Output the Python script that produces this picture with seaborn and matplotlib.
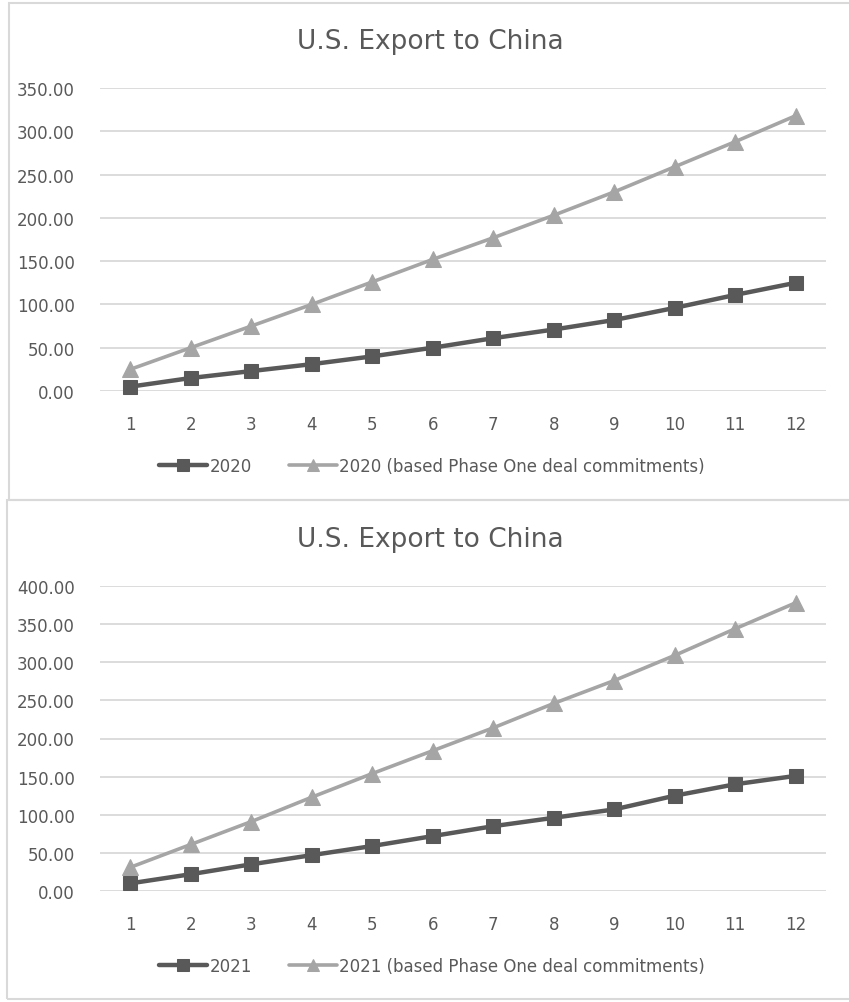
import matplotlib
matplotlib.use("Agg")
import matplotlib.pyplot as plt
import seaborn as sns
import pandas as pd
from matplotlib.patches import Rectangle
from matplotlib.ticker import FormatStrFormatter

months = list(range(1, 13))
actual_2020 = [5, 15, 23, 31, 40, 50, 61, 71, 82, 96, 111, 125]
phase1_2020 = [25, 50, 75, 100, 126, 152, 177, 203, 230, 259, 288, 318]
actual_2021 = [10, 22, 35, 47, 59, 72, 85, 96, 107, 125, 140, 151]
phase1_2021 = [31, 61, 91, 123, 154, 184, 214, 246, 276, 309, 344, 378]
title_text = "U.S. Export to China"
labels_2020 = ["2020", "2020 (based Phase One deal commitments)"]
labels_2021 = ["2021", "2021 (based Phase One deal commitments)"]

sns.set_theme(style="white")
plt.rcParams['font.family'] = ['DejaVu Sans']

DARK = "#595959"
LIGHT = "#A5A5A5"
GRID = "#D9D9D9"
TEXT = "#595959"

W, H = 849, 1003
fig = plt.figure(figsize=(W / 100, H / 100), dpi=100)

def fx(px):
    return px / W

def fy(py):
    return 1 - py / H

# chart boxes (right edges run past the image edge, as in the reference)
fig.patches.append(Rectangle((fx(9), fy(501)), fx(950 - 9), (501 - 4) / H,
                             transform=fig.transFigure, fill=False,
                             edgecolor=GRID, linewidth=1.5))
fig.patches.append(Rectangle((fx(7), fy(1000)), fx(950 - 7), (1000 - 501) / H,
                             transform=fig.transFigure, fill=False,
                             edgecolor=GRID, linewidth=1.5))

def make_chart(top_px, bot_px, title_y, legend_y, ymax, s1, s2, labels):
    ax = fig.add_axes([fx(100), fy(bot_px), fx(826 - 100), (bot_px - top_px) / H])
    df = pd.DataFrame({"month": months, "a": s1, "b": s2})
    sns.lineplot(data=df, x="month", y="a", ax=ax, color=DARK, marker="s",
                 markersize=10.5, linewidth=3.2, markeredgecolor=DARK,
                 label=labels[0], zorder=3)
    sns.lineplot(data=df, x="month", y="b", ax=ax, color=LIGHT, marker="^",
                 markersize=12, linewidth=2.6, markeredgecolor=LIGHT,
                 label=labels[1], zorder=3)
    ax.set_xlim(0.5, 12.5)
    ax.set_ylim(0, ymax)
    ax.set_yticks(range(0, ymax + 1, 50))
    ax.yaxis.set_major_formatter(FormatStrFormatter("%.2f"))
    ax.set_xticks(months)
    ax.set_xlabel("")
    ax.set_ylabel("")
    ax.grid(axis="y", color=GRID, linewidth=1.3)
    ax.grid(axis="x", visible=False)
    for sp in ax.spines.values():
        sp.set_visible(False)
    ax.tick_params(axis="both", length=0, labelsize=12, colors=TEXT)
    ax.tick_params(axis="y", pad=18)
    ax.tick_params(axis="x", pad=17)
    ax.set_axisbelow(True)
    for ln in ax.lines:
        ln.set_clip_on(False)
    fig.text(fx(430), fy(title_y), title_text, ha="center", va="center",
             fontsize=19, color=TEXT)
    leg = ax.legend(loc="center", bbox_to_anchor=(fx(432), fy(legend_y)),
                    bbox_transform=fig.transFigure, ncol=2, frameon=False,
                    fontsize=12, handlelength=2.9, handletextpad=0.15,
                    columnspacing=2.2, labelcolor=TEXT)
    handles = leg.legend_handles
    handles[0].set_markersize(8)
    handles[1].set_markersize(8)
    return ax

make_chart(89, 392, 42, 467, 350, actual_2020, phase1_2020, labels_2020)
make_chart(587, 892, 540, 967, 400, actual_2021, phase1_2021, labels_2021)

fig.savefig("out.png", dpi=100, facecolor="white")
